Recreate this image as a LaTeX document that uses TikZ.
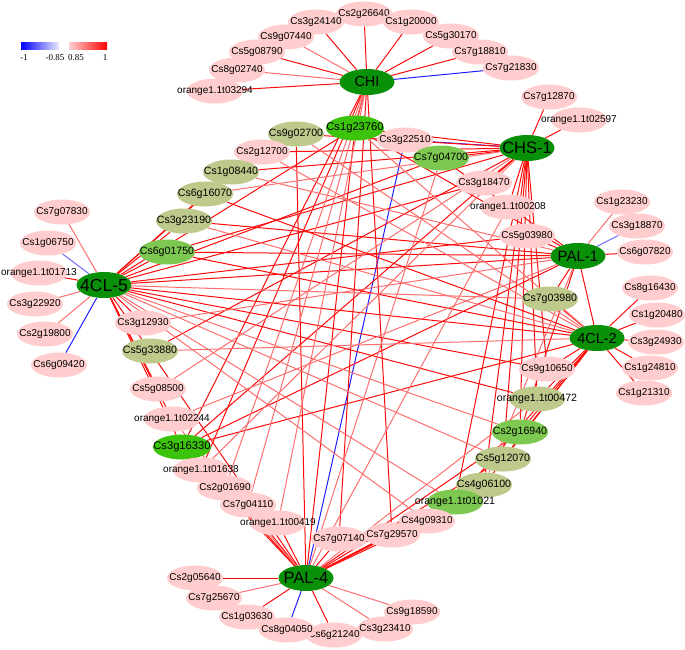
\documentclass[tikz,border=0pt]{standalone}
\usepackage{fontspec}
\setmainfont{Liberation Sans}
\newfontfamily\legfont{Liberation Serif}
\usetikzlibrary{shapes.geometric,backgrounds}
\definecolor{hubg}{RGB}{8,145,8}
\definecolor{brg}{RGB}{60,195,12}
\definecolor{mdg}{RGB}{125,200,80}
\definecolor{olv}{RGB}{190,202,140}
\definecolor{pnk}{RGB}{255,205,205}
\definecolor{rstrong}{RGB}{255,10,10}
\definecolor{rlight}{RGB}{255,110,110}
\definecolor{bstrong}{RGB}{30,30,255}
\definecolor{blight}{RGB}{110,110,255}
\newcommand{\ctr}[1]{\makebox[0pt][c]{#1}}
\begin{document}
\begin{tikzpicture}[x=1pt,y=-1pt,
 nd/.style={ellipse,minimum width=56pt,minimum height=25pt,inner sep=0pt,draw=none,font=\fontsize{10}{12}\selectfont},
 pk/.style={nd,fill=pnk},
 ol/.style={nd,fill=olv,font=\fontsize{10.6}{12}\selectfont},
 mg/.style={nd,fill=mdg,font=\fontsize{10.6}{12}\selectfont},
 bgn/.style={nd,fill=brg,minimum width=58pt,font=\fontsize{11.2}{13}\selectfont},
 hub/.style={nd,fill=hubg,minimum width=55pt,minimum height=26pt},
 rs/.style={draw=rstrong,line width=1pt},
 rl/.style={draw=rlight,line width=1pt},
 bs/.style={draw=bstrong,line width=1pt},
 bls/.style={draw=blight,line width=1pt},
 leg/.style={font=\legfont\fontsize{9}{10}\selectfont,inner sep=0pt}
]
\useasboundingbox (0,0) rectangle (685,649);

% legend
\shade[left color=blue, right color=blue!8] (21,42) rectangle (59,49);
\shade[left color=red!18, right color=red] (69,42) rectangle (107,49);
\node[leg] (lg1) at (24,58) {-1};
\node[leg] (lg2) at (55,58) {-0.85};
\node[leg] (lg3) at (76,58) {0.85};
\node[leg] (lg4) at (105,58) {1};

% CHI peripheral
\node[pk] (p1) at (364,14) {\ctr{Cs2g26640}};
\node[pk] (p3) at (316,22) {\ctr{Cs3g24140}};
\node[pk] (p2) at (411,22) {\ctr{Cs1g20000}};
\node[pk] (p4) at (286,37) {\ctr{Cs9g07440}};
\node[pk] (p5) at (451,36) {\ctr{Cs5g30170}};
\node[pk] (p6) at (257,52) {\ctr{Cs5g08790}};
\node[pk] (p7) at (480,52) {\ctr{Cs7g18810}};
\node[pk] (p8) at (237,70) {\ctr{Cs8g02740}};
\node[pk] (p9) at (511,68) {\ctr{Cs7g21830}};
\node[pk] (p10) at (215,91) {\ctr{orange1.1t03294}};
% CHS-1 peripheral
\node[pk] (q1) at (549,97) {\ctr{Cs7g12870}};
\node[pk] (q2) at (579,120) {\ctr{orange1.1t02597}};
% PAL-1 peripheral
\node[pk] (r1) at (622,202) {\ctr{Cs1g23230}};
\node[pk] (r2) at (637,226) {\ctr{Cs3g18870}};
\node[pk] (r3) at (645,252) {\ctr{Cs6g07820}};
% 4CL-2 peripheral
\node[pk] (s1) at (650,288) {\ctr{Cs8g16430}};
\node[pk] (s2) at (657,315) {\ctr{Cs1g20480}};
\node[pk] (s3) at (656,342) {\ctr{Cs3g24930}};
\node[pk] (s4) at (650,368) {\ctr{Cs1g24810}};
\node[pk] (s5) at (644,393) {\ctr{Cs1g21310}};
% 4CL-5 peripheral
\node[pk] (t1) at (62,212) {\ctr{Cs7g07830}};
\node[pk] (t2) at (48,243) {\ctr{Cs1g06750}};
\node[pk] (t3) at (39,273) {\ctr{orange1.1t01713}};
\node[pk] (t4) at (35,304) {\ctr{Cs3g22920}};
\node[pk] (t5) at (45,334) {\ctr{Cs2g19800}};
\node[pk] (t6) at (59,365) {\ctr{Cs6g09420}};
% PAL-4 peripheral
\node[pk] (u1) at (195,578) {\ctr{Cs2g05640}};
\node[pk] (u2) at (214,598) {\ctr{Cs7g25670}};
\node[pk] (u3) at (247,617) {\ctr{Cs1g03630}};
\node[pk] (u7) at (412,612) {\ctr{Cs9g18590}};
\node[pk] (u6) at (385,629) {\ctr{Cs3g23410}};
\node[pk] (u5) at (334,635) {\ctr{Cs6g21240}};
\node[pk] (u4) at (287,630) {\ctr{Cs8g04050}};

% inner nodes
\node[ol] (i2) at (296,134) {\ctr{Cs9g02700}};
\node[pk] (i3) at (405,140) {\ctr{Cs3g22510}};
\node[bgn] (i1) at (355,128) {\ctr{Cs1g23760}};
\node[pk] (i4) at (262,152) {\ctr{Cs2g12700}};
\node[mg] (i5) at (441,158) {\ctr{Cs7g04700}};
\node[ol] (i6) at (231,172) {\ctr{Cs1g08440}};
\node[pk] (i7) at (484,183) {\ctr{Cs3g18470}};
\node[ol] (i8) at (205,194) {\ctr{Cs6g16070}};
\node[pk] (i9) at (508,207) {\ctr{orange1.1t00208}};
\node[ol] (i10) at (184,221) {\ctr{Cs3g23190}};
\node[pk] (i11) at (527,236) {\ctr{Cs5g03980}};
\node[mg] (i12) at (167,252) {\ctr{Cs6g01750}};
\node[ol] (i13) at (550,299) {\ctr{Cs7g03980}};
\node[pk] (i14) at (143,323) {\ctr{Cs3g12930}};
\node[ol] (i15) at (150,351) {\ctr{Cs5g33880}};
\node[pk] (i16) at (547,369) {\ctr{Cs9g10650}};
\node[pk] (i17) at (158,389) {\ctr{Cs5g08500}};
\node[ol] (i18) at (537,399) {\ctr{orange1.1t00472}};
\node[pk] (i19) at (172,419) {\ctr{orange1.1t02244}};
\node[mg] (i20) at (520,432) {\ctr{Cs2g16940}};
\node[bgn] (i21) at (182,447) {\ctr{Cs3g16330}};
\node[ol] (i22) at (503,459) {\ctr{Cs5g12070}};
\node[pk] (i23) at (201,470) {\ctr{orange1.1t01638}};
\node[ol] (i24) at (484,485) {\ctr{Cs4g06100}};
\node[pk] (i25) at (225,488) {\ctr{Cs2g01690}};
\node[mg] (i26) at (455,502) {\ctr{orange1.1t01021}};
\node[pk] (i27) at (248,505) {\ctr{Cs7g04110}};
\node[pk] (i28) at (427,521) {\ctr{Cs4g09310}};
\node[pk] (i29) at (278,523) {\ctr{orange1.1t00419}};
\node[pk] (i30) at (392,535) {\ctr{Cs7g29570}};
\node[pk] (i31) at (339,539) {\ctr{Cs7g07140}};

% hubs
\node[hub,font=\fontsize{14.5}{16}\selectfont] (CHI) at (367,82) {\ctr{CHI}};
\node[hub,font=\fontsize{16.5}{18}\selectfont] (CHS) at (527,148) {\ctr{CHS-1}};
\node[hub,font=\fontsize{15}{16}\selectfont] (PA1) at (578,256) {\ctr{PAL-1}};
\node[hub,font=\fontsize{14.5}{16}\selectfont] (C42) at (597,338) {\ctr{4CL-2}};
\node[hub,font=\fontsize{17.5}{19}\selectfont] (C45) at (104,285) {\ctr{4CL-5}};
\node[hub,font=\fontsize{16.5}{18}\selectfont] (PA4) at (306,578) {\ctr{PAL-4}};

\begin{pgfonlayer}{background}
% peripheral edges
\foreach \a/\b in {CHI/p1,CHI/p2,CHI/p3,CHI/p5,CHI/p6,CHI/p7,CHI/p10,
  CHS/q1,CHS/q2,PA1/r3,C42/s1,C42/s2,C42/s3,C42/s4,C42/s5,C45/t3,
  PA4/u1,PA4/u3,PA4/u5}
  \draw[rs] (\a) -- (\b);
\foreach \a/\b in {CHI/p4,CHI/p8,PA1/r1,C45/t1,C45/t4,C45/t5,PA4/u2,PA4/u6,PA4/u7}
  \draw[rl] (\a) -- (\b);
\foreach \a/\b in {CHI/p9,C45/t6,PA4/u4,CHS/i3,PA4/i3}
  \draw[bs] (\a) -- (\b);
\foreach \a/\b in {PA1/r2,C45/t2}
  \draw[bls] (\a) -- (\b);
% inner edges, strong
\foreach \a/\b in {CHI/i1,CHS/i1,PA1/i1,C45/i1,PA4/i1,
  CHS/i2,PA4/i2,CHS/i4,
  CHS/i5,PA1/i5,C45/i5,
  CHS/i6,C45/i6,CHS/i7,C45/i7,
  C42/i8,C45/i8,CHS/i9,
  PA1/i10,C45/i10,PA1/i11,C45/i11,
  CHS/i12,PA1/i12,C42/i12,C45/i12,
  PA1/i13,C42/i13,C45/i14,
  CHS/i15,C45/i15,CHS/i16,C42/i16,C45/i16,
  C45/i17,CHS/i18,C42/i18,C45/i18,C45/i19,
  CHS/i20,PA1/i20,C42/i20,PA4/i20,
  CHI/i21,CHS/i21,PA1/i21,C42/i21,C45/i21,PA4/i21,
  CHS/i22,C42/i22,PA4/i22,CHI/i23,
  CHS/i24,C42/i24,PA4/i24,PA4/i25,
  CHS/i26,C42/i26,PA4/i26,PA4/i27,PA4/i28,PA4/i29,
  CHI/i30,PA4/i30,CHI/i31,PA4/i31,PA4/i15,
  C45/PA1,C45/C42,PA1/C42}
  \draw[rs] (\a) -- (\b);
% inner edges, lighter
\foreach \a/\b in {C42/i1,C42/i2,C42/i4,PA4/i5,PA1/i6,CHS/i8,PA4/i9,
  C42/i10,C45/i13,PA1/i14,C42/i15,CHS/i17,PA4/i18,PA1/i19,C45/i20,
  C45/i22,CHS/i23,PA1/i24,CHI/i25,C45/i26,CHI/i27,C45/i28,CHI/i29,PA4/i19}
  \draw[rl] (\a) -- (\b);
\end{pgfonlayer}
\end{tikzpicture}
\end{document}
